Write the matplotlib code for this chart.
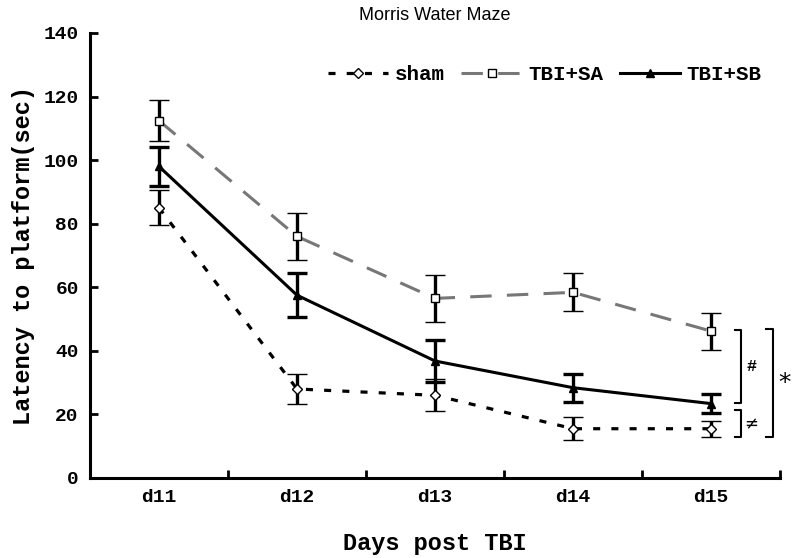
import numpy as np
from matplotlib import pyplot as plt
from matplotlib.lines import Line2D

# 数据
days = ["d11", "d12", "d13", "d14", "d15"]
sham = [85, 28, 26, 15.5, 15.5]
sham_err = [5.5, 4.8, 5, 3.7, 2.5]
tbi_sa = [112.4, 76, 56.5, 58.4, 46.2]
tbi_sa_err = [6.4, 7.5, 7.3, 6, 5.8]
tbi_sb = [98, 57.5, 36.8, 28.4, 23.4]
tbi_sb_err = [6, 7, 6.5, 4.4, 3]

x = np.arange(len(days))

plt.rcParams['font.family'] = ['Liberation Mono', 'DejaVu Sans']
fig = plt.figure(figsize=(7.92, 5.58), dpi=100)
ax = fig.add_axes([0.1136, 0.1434, 0.985 - 0.1136, 0.9409 - 0.1434])

sham_style = dict(color='black', ls=(0, (2.2, 3.5)), lw=2.3, marker='D', ms=5,
                  mfc='white', mec='black', mew=1)
sa_style = dict(color='#777777', ls=(0, (7, 5)), lw=2.2, marker='s', ms=6,
                mfc='white', mec='black', mew=1)
sb_style = dict(color='black', ls='-', lw=2.2, marker='^', ms=6,
                mfc='black', mec='black')
err_style = dict(ecolor='black', elinewidth=2.4, capsize=7, capthick=2.4)

ax.errorbar(x, sham, yerr=sham_err, **sham_style, **err_style)
ax.errorbar(x, tbi_sa, yerr=tbi_sa_err, **sa_style, **err_style)
ax.errorbar(x, tbi_sb, yerr=tbi_sb_err, **sb_style, **err_style)

ax.set_xlim(-0.5, 4.5)
ax.set_ylim(0, 140)
ax.set_yticks(np.arange(0, 141, 20))
ax.set_xticks(x)
ax.set_xticklabels(days)
ax.set_xticks(np.arange(0.5, 5, 1), minor=True)
ax.tick_params(axis='x', which='major', length=0, pad=8)
ax.tick_params(axis='x', which='minor', direction='in', length=6, width=2)
ax.tick_params(axis='y', direction='in', length=6, width=2, pad=8)
for lab in ax.get_xticklabels() + ax.get_yticklabels():
    lab.set_fontsize(14)
    lab.set_fontweight('bold')

for s in ['top', 'right']:
    ax.spines[s].set_visible(False)
for s in ['left', 'bottom']:
    ax.spines[s].set_linewidth(2.2)

ax.set_title("Morris Water Maze", fontsize=13, family='Liberation Sans', pad=9)
ax.set_xlabel("Days post TBI", fontsize=17, fontweight='bold', labelpad=19)
ax.set_ylabel("Latency to platform(sec)", fontsize=17, fontweight='bold', labelpad=6)

handles = [Line2D([], [], **sham_style), Line2D([], [], **sa_style), Line2D([], [], **sb_style)]
ax.legend(handles, ['sham', 'TBI+SA', 'TBI+SB'], loc='upper right', bbox_to_anchor=(1.0, 0.97),
          ncol=3, frameon=False, prop={'weight': 'bold', 'size': 15},
          handlelength=2.9, columnspacing=0.8, handletextpad=0.3)

# 显著性标记
def bracket(x0, x1, y0, y1):
    ax.plot([x0, x1, x1, x0], [y0, y0, y1, y1], color='black', lw=1.5, clip_on=False)

bracket(4.17, 4.22, 46.5, 23.5)
bracket(4.17, 4.22, 21.5, 13)
bracket(4.40, 4.45, 47, 13)
ax.text(4.29, 35, "#", fontsize=12, fontweight='bold', ha='center', va='center')
ax.text(4.29, 17, "≠", fontsize=12, ha='center', va='center', family='DejaVu Sans')
ax.text(4.53, 30, "*", fontsize=18, ha='center', va='center', family='DejaVu Sans', clip_on=False)

plt.savefig("out.png", dpi=100)
